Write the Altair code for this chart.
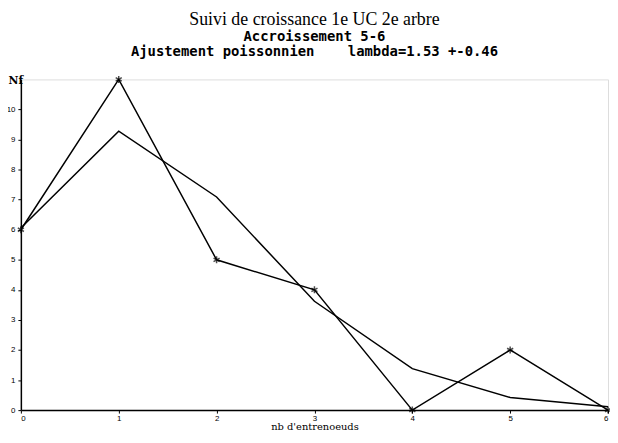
import altair as alt
import pandas as pd

nb = [0, 1, 2, 3, 4, 5, 6]
observe = [6, 11, 5, 4, 0, 2, 0]
ajuste = [6.06, 9.28, 7.09, 3.62, 1.38, 0.42, 0.11]

df_obs = pd.DataFrame({"x": nb, "y": observe})
df_fit = pd.DataFrame({"x": nb, "y": ajuste})

star = "M0,-1L0,1M-0.87,-0.5L0.87,0.5M-0.87,0.5L0.87,-0.5"

xenc = alt.X("x:Q", scale=alt.Scale(domain=[0, 6], nice=False),
             axis=alt.Axis(values=nb, title="nb d'entrenoeuds", grid=False,
                           labelFontSize=8, labelColor="black", labelPadding=1,
                           titleFontSize=10, titleFont="DejaVu Serif", titleFontWeight="normal",
                           titleBaseline="alphabetic", titleY=20, tickSize=3, tickColor="black",
                           domainColor="black", domainWidth=1.5))
yenc = alt.Y("y:Q", scale=alt.Scale(domain=[0, 11], nice=False),
             axis=alt.Axis(values=list(range(0, 11)), title="Nf", grid=False,
                           labelFontSize=8, labelColor="black", labelPadding=3,
                           titleAngle=0, titleAlign="left", titleBaseline="alphabetic",
                           titleX=-13, titleY=4, titleFontSize=11, titleFont="DejaVu Serif",
                           titleFontWeight="bold",
                           tickSize=3, tickColor="black",
                           domainColor="black", domainWidth=1.5))

fit = alt.Chart(df_fit).mark_line(color="black", strokeWidth=1.5).encode(x=xenc, y=yenc)
obs = alt.Chart(df_obs).mark_line(color="black", strokeWidth=1.5).encode(x=xenc, y=yenc)
pts = alt.Chart(df_obs).mark_point(shape=star, size=50, color="black", strokeWidth=1.5, filled=False).encode(x=xenc, y=yenc)

chart = alt.layer(fit, obs, pts).properties(
    width=593, height=334,
    title=alt.TitleParams(
        text="Suivi de croissance 1e UC 2e arbre",
        subtitle=["Accroissement 5-6", "Ajustement poissonnien\u00a0\u00a0\u00a0 lambda=1.53 +-0.46"],
        font="Liberation Serif", fontSize=18, fontWeight="normal", color="black",
        subtitleFont="DejaVu Sans Mono", subtitleFontSize=14, subtitleFontWeight="bold",
        subtitleColor="black", subtitleLineHeight=15, subtitlePadding=1,
        anchor="middle", offset=14),
    autosize=alt.AutoSizeParams(type="none"),
    padding={"left": 13, "top": 70, "right": 2, "bottom": 22},
).configure_view(stroke="#ffffff", strokeWidth=0, fill="white").configure(background="white")

chart.save("out.html", embed_options={"renderer": "svg", "actions": False})
